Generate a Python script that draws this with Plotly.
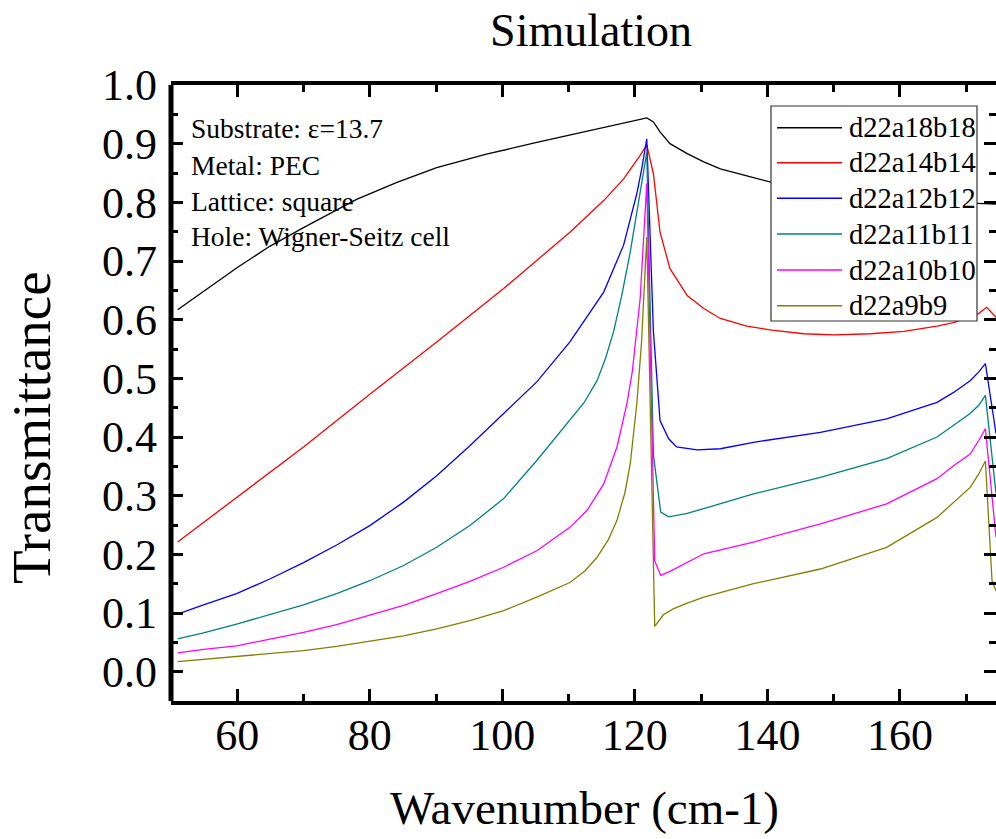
import plotly.graph_objects as go

# ---------------- data ----------------
series_names = ["d22a18b18", "d22a14b14", "d22a12b12", "d22a11b11", "d22a10b10", "d22a9b9"]
series_colors = ["#000000", "#FF0000", "#0000FF", "#008080", "#FF00FF", "#808000"]

x_a18 = [51.0, 54.9, 59.9, 64.9, 70.0, 78.0, 84.1, 90.1, 97.6, 105.2, 112.7, 120.3, 121.8,
         122.8, 123.8, 125.3, 127.9, 130.4, 132.9, 136.9, 140.7, 150.0, 160.0, 168.0, 171.6, 174.5]
y_a18 = [0.617, 0.648, 0.688, 0.725, 0.757, 0.805, 0.834, 0.859, 0.882, 0.902, 0.921, 0.939, 0.944,
         0.937, 0.920, 0.900, 0.883, 0.869, 0.857, 0.845, 0.834, 0.816, 0.806, 0.800, 0.798, 0.797]

x_a14 = [51.0, 59.9, 70.0, 80.0, 90.1, 100.2, 105.2, 110.2, 115.3, 118.3, 120.8, 121.8,
         122.8, 123.8, 125.3, 127.9, 130.4, 132.9, 136.9, 140.7, 145.5, 150.0, 155.6, 160.6,
         165.6, 168.1, 171.8, 173.1, 174.5]
y_a14 = [0.221, 0.297, 0.383, 0.473, 0.562, 0.653, 0.701, 0.749, 0.803, 0.840, 0.880, 0.898,
         0.849, 0.749, 0.687, 0.641, 0.619, 0.602, 0.589, 0.582, 0.576, 0.574, 0.576, 0.580,
         0.589, 0.595, 0.610, 0.621, 0.604]

x_a12 = [51.0, 54.9, 59.9, 64.9, 70.0, 75.0, 80.0, 85.1, 90.1, 95.1, 100.2, 105.2, 110.2, 115.3,
         118.3, 120.3, 121.0, 121.8, 122.8, 123.8, 125.1, 126.3, 129.4, 132.9, 137.9, 148.0, 158.0,
         165.6, 168.1, 170.6, 171.9, 172.9, 174.5]
y_a12 = [0.098, 0.114, 0.133, 0.158, 0.186, 0.216, 0.249, 0.289, 0.334, 0.385, 0.440, 0.494, 0.562, 0.647,
         0.727, 0.815, 0.855, 0.908, 0.580, 0.428, 0.397, 0.383, 0.378, 0.380, 0.391, 0.408, 0.431,
         0.459, 0.476, 0.496, 0.511, 0.525, 0.406]

x_a11 = [51.0, 54.9, 59.9, 64.9, 70.0, 75.0, 80.0, 85.1, 90.1, 95.1, 100.2, 105.2, 110.2, 112.3,
         114.3, 115.6, 116.8, 118.0, 119.3, 120.3, 121.0, 121.8, 122.8, 123.9, 125.1, 127.9, 130.4,
         132.9, 137.9, 148.0, 158.0, 165.6, 168.1, 170.6, 171.9, 172.9, 174.5]
y_a11 = [0.056, 0.066, 0.081, 0.097, 0.114, 0.133, 0.155, 0.181, 0.212, 0.249, 0.295, 0.360, 0.428, 0.458,
         0.496, 0.535, 0.580, 0.640, 0.715, 0.780, 0.830, 0.885, 0.370, 0.272, 0.264, 0.270, 0.278,
         0.286, 0.303, 0.331, 0.363, 0.400, 0.420, 0.440, 0.454, 0.471, 0.304]

x_a10 = [51.0, 54.9, 59.9, 64.9, 70.0, 75.0, 80.0, 85.1, 90.1, 95.1, 100.2, 105.2, 110.2, 112.8,
         115.3, 117.3, 118.8, 119.6, 120.8, 121.8, 123.0, 123.9, 125.3, 127.9, 130.4, 137.9, 148.0,
         158.0, 165.6, 168.1, 170.6, 171.9, 172.9, 174.5]
y_a10 = [0.032, 0.038, 0.044, 0.055, 0.067, 0.080, 0.096, 0.113, 0.133, 0.154, 0.178, 0.206, 0.246, 0.275,
         0.320, 0.383, 0.457, 0.510, 0.636, 0.832, 0.189, 0.164, 0.171, 0.187, 0.201, 0.221, 0.252,
         0.286, 0.329, 0.351, 0.371, 0.394, 0.414, 0.229]

x_a9 = [51.0, 59.9, 64.9, 70.0, 75.0, 80.0, 85.1, 90.1, 95.1, 100.2, 105.2, 110.2, 112.5, 114.3,
        116.0, 117.3, 118.5, 119.3, 120.3, 121.0, 121.8, 123.0, 123.6, 124.3, 125.8, 127.9, 130.4,
        137.9, 148.0, 158.0, 165.6, 168.1, 170.6, 171.9, 172.9, 173.9, 174.5]
y_a9 = [0.017, 0.026, 0.030, 0.036, 0.043, 0.052, 0.061, 0.073, 0.087, 0.104, 0.127, 0.152, 0.172, 0.195,
        0.225, 0.258, 0.305, 0.354, 0.457, 0.560, 0.741, 0.077, 0.087, 0.097, 0.107, 0.117, 0.127,
        0.150, 0.175, 0.212, 0.263, 0.289, 0.314, 0.337, 0.359, 0.155, 0.138]

series_x = [x_a18, x_a14, x_a12, x_a11, x_a10, x_a9]
series_y = [y_a18, y_a14, y_a12, y_a11, y_a10, y_a9]

info_lines = ["Substrate: \u03b5=13.7", "Metal: PEC", "Lattice: square", "Hole: Wigner-Seitz cell"]

title_text = "Simulation"
x_title = "Wavenumber (cm-1)"
y_title = "Transmittance"

# ---------------- figure ----------------
FONT = "Liberation Serif, Times New Roman, serif"
W, H = 996, 839
ML, MR, MT, MB = 171, 0, 85, 138
PW, PH = W - ML - MR, H - MT - MB


def px_x(p):
    return (p - ML) / PW


def px_y(p):
    return (H - MB - p) / PH


fig = go.Figure()
for name, col, xs, ys in zip(series_names, series_colors, series_x, series_y):
    fig.add_trace(go.Scatter(x=xs, y=ys, mode="lines", name=name,
                             line=dict(color=col, width=1.3), showlegend=False))

axis_common = dict(ticks="inside", ticklen=12, tickwidth=3, tickcolor="black",
                   showgrid=False, zeroline=False,
                   tickfont=dict(family=FONT, size=44, color="black"))

fig.update_layout(
    width=W, height=H,
    margin=dict(l=ML, r=MR, t=MT, b=MB),
    paper_bgcolor="white", plot_bgcolor="white",
    showlegend=False,
    title=dict(text=title_text, x=591 / W, xanchor="center", y=1 - 30 / H, yanchor="middle",
               font=dict(family=FONT, size=46, color="black")),
    xaxis=dict(range=[50, 174.5], tickmode="linear", tick0=60, dtick=20,
               showline=True, linewidth=4, linecolor="black", mirror="ticks",
               minor=dict(ticks="inside", ticklen=7, tickwidth=3, tickcolor="black", dtick=10, tick0=50),
               ticklabelstandoff=-8,
               **axis_common),
    yaxis=dict(range=[-0.05, 1.0], tickmode="linear", tick0=0, dtick=0.1, tickformat=".1f",
               showline=False, mirror="ticks",
               minor=dict(ticks="inside", ticklen=7, tickwidth=3, tickcolor="black", dtick=0.05, tick0=0),
               ticklabelstandoff=13,
               **axis_common),
)

# left axis line (right side of the frame falls outside the picture)
fig.add_shape(type="line", xref="paper", yref="paper", x0=0, x1=0, y0=0, y1=1,
              line=dict(color="black", width=5), layer="above")

# axis titles
fig.add_annotation(text=x_title, xref="paper", yref="paper", x=px_x(584), y=px_y(808),
                   xanchor="center", yanchor="middle", showarrow=False,
                   font=dict(family=FONT, size=47, color="black"))
fig.add_annotation(text=y_title, xref="paper", yref="paper", x=px_x(31), y=px_y(428),
                   xanchor="center", yanchor="middle", showarrow=False, textangle=-90,
                   font=dict(family=FONT, size=55, color="black"))

# info text block
info_y = [129, 165, 201, 237]
for t, yy in zip(info_lines, info_y):
    fig.add_annotation(text=t, xref="paper", yref="paper", x=px_x(189), y=px_y(yy),
                       xanchor="left", yanchor="middle", showarrow=False,
                       font=dict(family=FONT, size=27.5, color="black"))

# legend box drawn manually
fig.add_shape(type="rect", xref="paper", yref="paper",
              x0=px_x(771), x1=px_x(977), y0=px_y(321), y1=px_y(106),
              line=dict(color="#333333", width=1.2), fillcolor="white", layer="above")
row_y = [127.7, 162.7, 198.3, 234, 270, 305.7]
for name, col, yy in zip(series_names, series_colors, row_y):
    fig.add_shape(type="line", xref="paper", yref="paper",
                  x0=px_x(777), x1=px_x(842), y0=px_y(yy), y1=px_y(yy),
                  line=dict(color=col, width=1.4), layer="above")
    fig.add_annotation(text=name, xref="paper", yref="paper", x=px_x(847), y=px_y(yy),
                       xanchor="left", yanchor="middle", showarrow=False,
                       font=dict(family=FONT, size=28.5, color="black"))

fig.write_html("out.html")
